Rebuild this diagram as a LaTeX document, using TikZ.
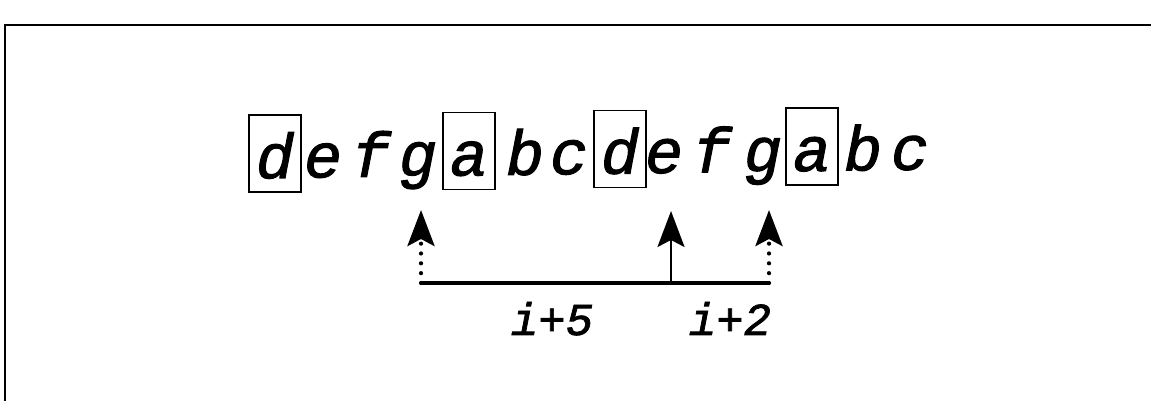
\documentclass[tikz,border=0pt]{standalone}
\usepackage{fontspec}
\newfontfamily\courfont[FakeBold=1.6]{Liberation Mono}
\usetikzlibrary{arrows.meta}
\begin{document}
\begin{tikzpicture}[x=0.02cm,y=-0.02cm,
  ltr/.style={font=\fontsize{36}{36}\selectfont\courfont\itshape, inner sep=0pt, anchor=base},
  boxed/.style={ltr, draw, line width=1.1pt, minimum width=1.04cm, text height=1.26cm, text depth=0.28cm},
  lbl/.style={font=\fontsize{26}{26}\selectfont\courfont\itshape, anchor=base, inner sep=0pt},
  up/.style={-{Stealth[length=0.72cm,width=0.54cm,inset=0.14cm]}},
  dots/.style={line width=2.4pt, line cap=round, dash pattern=on 0pt off 5.6pt},
  frame/.style={line width=1.6pt},
]
\useasboundingbox (0,0) rectangle (1151,401);
% frame
\draw[frame] (5,401) -- (5,25) -- (1151,25);
% letters
\node[boxed] (d1) at (275,178) {d};
\node[ltr] (e1) at (323,177.4) {e};
\node[ltr] (f1) at (371,176.8) {f};
\node[ltr] (g1) at (418,176.1) {g};
\node[boxed] (a1) at (469,175.5) {a};
\node[ltr] (b1) at (525,174.8) {b};
\node[ltr] (c1) at (569,174.2) {c};
\node[boxed] (d2) at (620,173.5) {d};
\node[ltr] (e2) at (664,173) {e};
\node[ltr] (f2) at (712,172.3) {f};
\node[ltr] (g2) at (763,171.7) {g};
\node[boxed] (a2) at (812,171) {a};
\node[ltr] (b2) at (863,170.4) {b};
\node[ltr] (c2) at (910,169.8) {c};
% arrows
\coordinate (L) at (421,283);
\coordinate (M) at (671,283);
\coordinate (R) at (769,283);
\coordinate (Lt) at (421,210);
\coordinate (Mt) at (671,211);
\coordinate (Rt) at (769,210);
\draw[line width=2pt] (L) -- (R);
\draw[dots, up] (L) -- (Lt);
\draw[dots, up] (R) -- (Rt);
\draw[line width=1.4pt, up] (M) -- (Mt);
% labels
\node[lbl] (l5) at (552,335) {i+5};
\node[lbl] (l2) at (730,335) {i+2};
\end{tikzpicture}
\end{document}
